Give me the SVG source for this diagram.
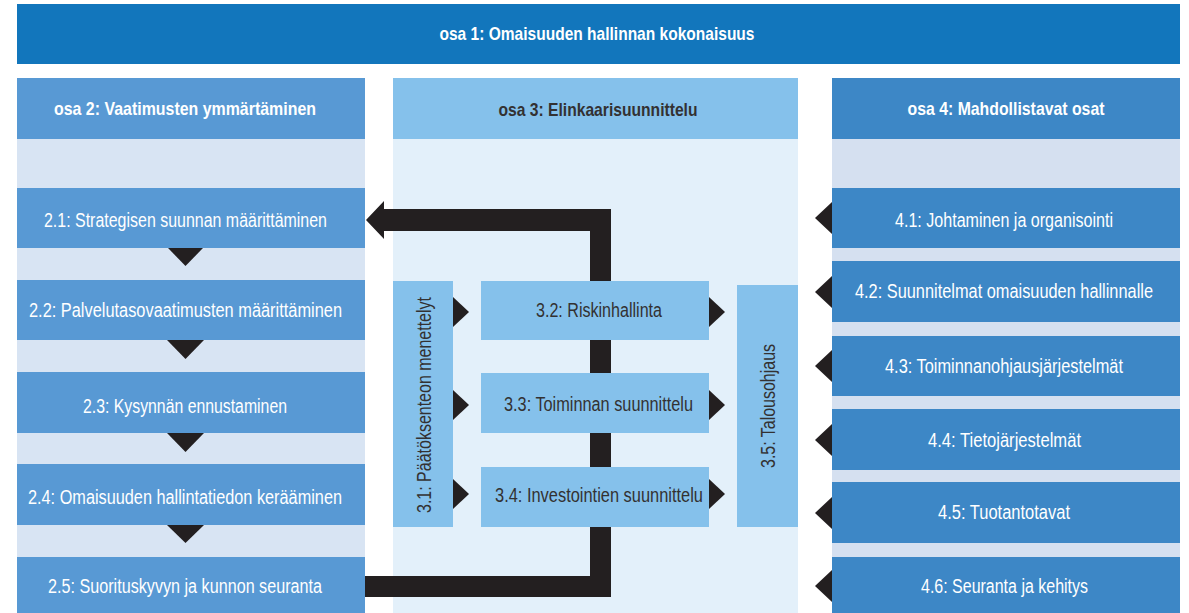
<svg xmlns="http://www.w3.org/2000/svg" width="1189" height="613" viewBox="0 0 1189 613">
<style>
text{font-family:"Liberation Sans",Arial,sans-serif;font-size:20px}
.b{font-weight:bold;font-size:19px}
.w{fill:#ffffff}
.d{fill:#333132}
.c2{fill:#5899D4}
.l2{fill:#D8E4F3}
.c4{fill:#3D87C6}
.l4{fill:#D5E0F0}
.h3{fill:#85C1EB}
.b3{fill:#E3F0FA}
.k{fill:#231F20}
</style>
<rect width="1189" height="613" fill="#ffffff"/>
<g id="osa1">
<rect x="17" y="4" width="1163" height="60" fill="#1276BC"/>
<text class="w b" x="597" y="40" text-anchor="middle" textLength="315" lengthAdjust="spacingAndGlyphs">osa 1: Omaisuuden hallinnan kokonaisuus</text>
</g>
<g id="osa2">
<rect class="l2" x="17" y="139" width="348" height="474"/>
<rect class="c2" x="17" y="78" width="348" height="61"/>
<text class="w b" x="185" y="115" text-anchor="middle" textLength="262" lengthAdjust="spacingAndGlyphs">osa 2: Vaatimusten ymmärtäminen</text>
</g>
<g id="osa3">
<rect class="b3" x="393" y="139" width="405" height="474"/>
<rect class="h3" x="393" y="78" width="405" height="61"/>
<text class="d b" x="598" y="116" text-anchor="middle" textLength="199" lengthAdjust="spacingAndGlyphs">osa 3: Elinkaarisuunnittelu</text>
</g>
<g id="osa4">
<rect class="l4" x="832" y="139" width="348" height="474"/>
<rect class="c4" x="832" y="78" width="348" height="61"/>
<text class="w b" x="1006" y="115" text-anchor="middle" textLength="197" lengthAdjust="spacingAndGlyphs">osa 4: Mahdollistavat osat</text>
</g>
<g id="connectors">
<path class="k" d="M365,576 H590 V231 H384 V239 L366,220 L384,201 V209 H611 V597 H365 Z"/>
<path class="k" d="M168,248 H203 L185.5,266 Z"/>
<path class="k" d="M167,340 H204 L185.5,359 Z"/>
<path class="k" d="M167,433 H204 L185.5,452 Z"/>
<path class="k" d="M167,525 H204 L185.5,543 Z"/>
<path class="k" d="M453,297 L469,312 L453,327 Z"/>
<path class="k" d="M453,390 L469,405 L453,420 Z"/>
<path class="k" d="M453,479 L469,494 L453,509 Z"/>
<path class="k" d="M709,297 L725,312 L709,327 Z"/>
<path class="k" d="M709,390 L725,405 L709,420 Z"/>
<path class="k" d="M709,479 L725,494 L709,509 Z"/>
<path class="k" d="M832,202 L815,218 L832,234 Z"/>
<path class="k" d="M832,276 L815,292 L832,308 Z"/>
<path class="k" d="M832,350 L815,366 L832,382 Z"/>
<path class="k" d="M832,424 L815,440 L832,456 Z"/>
<path class="k" d="M832,497 L815,513 L832,529 Z"/>
<path class="k" d="M832,570 L815,586 L832,602 Z"/>
</g>
<g id="n2-1"><rect class="c2" x="17" y="188" width="348" height="60"/><text class="w" transform="scale(0.8 1)" x="231.875" y="227" text-anchor="middle" textLength="353.75" lengthAdjust="spacingAndGlyphs">2.1: Strategisen suunnan määrittäminen</text></g>
<g id="n2-2"><rect class="c2" x="17" y="280" width="348" height="60"/><text class="w" transform="scale(0.8 1)" x="231.875" y="317" text-anchor="middle" textLength="391.25" lengthAdjust="spacingAndGlyphs">2.2: Palvelutasovaatimusten määrittäminen</text></g>
<g id="n2-3"><rect class="c2" x="17" y="372" width="348" height="61"/><text class="w" x="185" y="413" text-anchor="middle" textLength="204" lengthAdjust="spacingAndGlyphs">2.3: Kysynnän ennustaminen</text></g>
<g id="n2-4"><rect class="c2" x="17" y="464" width="348" height="61"/><text class="w" transform="scale(0.8 1)" x="231.25" y="504" text-anchor="middle" textLength="392.5" lengthAdjust="spacingAndGlyphs">2.4: Omaisuuden hallintatiedon kerääminen</text></g>
<g id="n2-5"><rect class="c2" x="17" y="557" width="348" height="56"/><text class="w" x="185" y="593" text-anchor="middle" textLength="274" lengthAdjust="spacingAndGlyphs">2.5: Suorituskyvyn ja kunnon seuranta</text></g>
<g id="n3-1"><rect class="h3" x="393" y="281" width="60" height="246"/><text class="d" transform="translate(431,405) rotate(-90)" x="0" y="0" text-anchor="middle" textLength="216" lengthAdjust="spacingAndGlyphs">3.1: Päätöksenteon menettelyt</text></g>
<g id="n3-2"><rect class="h3" x="481" y="281" width="228" height="59"/><text class="d" x="599" y="317" text-anchor="middle" textLength="126" lengthAdjust="spacingAndGlyphs">3.2: Riskinhallinta</text></g>
<g id="n3-3"><rect class="h3" x="481" y="373" width="228" height="60"/><text class="d" x="598.5" y="411" text-anchor="middle" textLength="189" lengthAdjust="spacingAndGlyphs">3.3: Toiminnan suunnittelu</text></g>
<g id="n3-4"><rect class="h3" x="481" y="467" width="228" height="60"/><text class="d" x="599" y="502" text-anchor="middle" textLength="208" lengthAdjust="spacingAndGlyphs">3.4: Investointien suunnittelu</text></g>
<g id="n3-5"><rect class="h3" x="737" y="285" width="61" height="242"/><text class="d" transform="translate(775,406) rotate(-90)" x="0" y="0" text-anchor="middle" textLength="124" lengthAdjust="spacingAndGlyphs">3.5: Talousohjaus</text></g>
<g id="n4-1"><rect class="c4" x="832" y="188" width="348" height="60"/><text class="w" x="1004" y="227" text-anchor="middle" textLength="218" lengthAdjust="spacingAndGlyphs">4.1: Johtaminen ja organisointi</text></g>
<g id="n4-2"><rect class="c4" x="832" y="261" width="348" height="61"/><text class="w" transform="scale(0.8 1)" x="1255" y="298" text-anchor="middle" textLength="372.5" lengthAdjust="spacingAndGlyphs">4.2: Suunnitelmat omaisuuden hallinnalle</text></g>
<g id="n4-3"><rect class="c4" x="832" y="336" width="348" height="60"/><text class="w" x="1004" y="373" text-anchor="middle" textLength="238" lengthAdjust="spacingAndGlyphs">4.3: Toiminnanohjausjärjestelmät</text></g>
<g id="n4-4"><rect class="c4" x="832" y="409" width="348" height="61"/><text class="w" x="1004.5" y="447" text-anchor="middle" textLength="153" lengthAdjust="spacingAndGlyphs">4.4: Tietojärjestelmät</text></g>
<g id="n4-5"><rect class="c4" x="832" y="482" width="348" height="61"/><text class="w" x="1004" y="519" text-anchor="middle" textLength="132" lengthAdjust="spacingAndGlyphs">4.5: Tuotantotavat</text></g>
<g id="n4-6"><rect class="c4" x="832" y="557" width="348" height="56"/><text class="w" x="1004.5" y="593" text-anchor="middle" textLength="167" lengthAdjust="spacingAndGlyphs">4.6: Seuranta ja kehitys</text></g>
</svg>
